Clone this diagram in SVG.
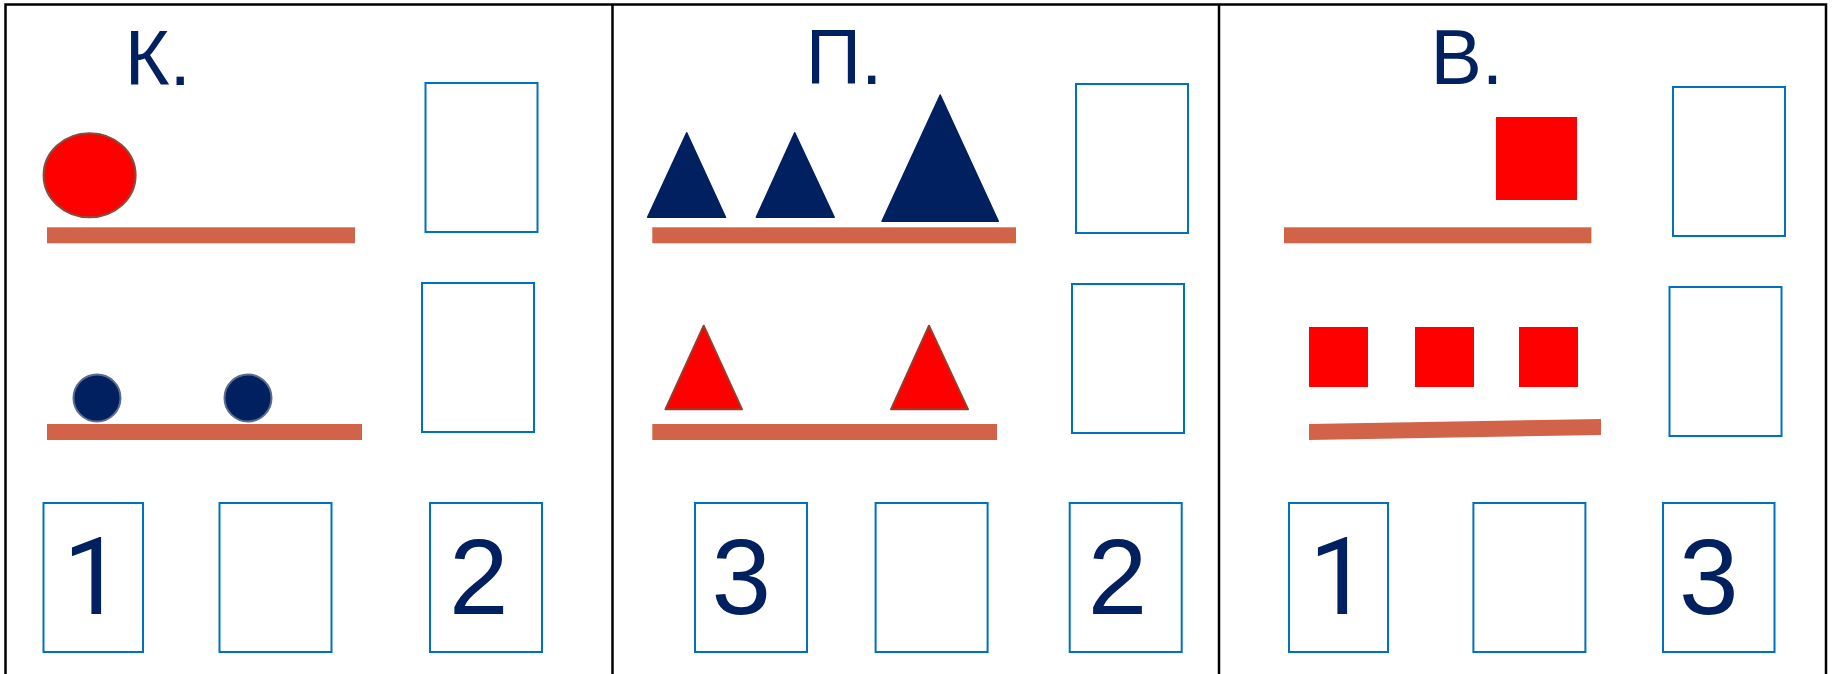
<svg xmlns="http://www.w3.org/2000/svg" width="1833" height="674" viewBox="0 0 1833 674">
<style>
.frame{stroke:#000;stroke-width:2.5;fill:none}
.box{fill:#fff;stroke:#0070C0;stroke-width:2}
.bar{fill:#D16349}
.navy{fill:#002060}
.red{fill:#FF0000}
.redt{fill:#FF0000;stroke:#9A3B2B;stroke-width:2;stroke-linejoin:round}
.navyc{fill:#002060;stroke:#5C6C8E;stroke-width:2}
.lbl{font-family:'Liberation Sans',sans-serif;fill:#002060}
.one{font-family:Roboto,'Liberation Sans',sans-serif}
.head{font-size:77px}
.num{font-size:107px}
</style>
<rect x="0" y="0" width="1833" height="674" fill="#fff"/>
<g id="frame">
<path class="frame" d="M5.5 674 V4.5 H1826 V674"/>
<line class="frame" x1="612.5" y1="4.5" x2="612.5" y2="674"/>
<line class="frame" x1="1219" y1="4.5" x2="1219" y2="674"/>
</g>
<g id="panel-k">
<text class="lbl head" x="124.7" y="85">К.</text>
<ellipse cx="89.6" cy="175.3" rx="46" ry="42" fill="#FF0000" stroke="#8B4A3A" stroke-width="2"/>
<rect class="bar" x="47" y="227.3" width="308" height="16"/>
<rect class="box" x="425.5" y="83" width="112" height="149"/>
<circle class="navyc" cx="97" cy="398" r="23.5"/>
<circle class="navyc" cx="248" cy="398" r="23.5"/>
<rect class="bar" x="47" y="424" width="315" height="16"/>
<rect class="box" x="422" y="283" width="112" height="149"/>
</g>
<g id="panel-p">
<text class="lbl head" x="805.7" y="84">П.</text>
<polygon class="navy" points="686.7,132.7 725.5,217.3 647.6,217.3" stroke="#002060" stroke-width="1.5" stroke-linejoin="round"/>
<polygon class="navy" points="794.7,132.7 834.2,217.3 756.3,217.3" stroke="#002060" stroke-width="1.5" stroke-linejoin="round"/>
<polygon class="navy" points="940.2,95 998.3,221.3 882,221.3" stroke="#002060" stroke-width="1.5" stroke-linejoin="round"/>
<rect class="bar" x="652.3" y="227.3" width="363.7" height="16"/>
<rect class="box" x="1076" y="84" width="112" height="149"/>
<polygon class="redt" points="703.7,325.7 742,409.3 665.4,409.3"/>
<polygon class="redt" points="929,325.7 968,409.3 891,409.3"/>
<rect class="bar" x="652.3" y="424" width="344.7" height="16"/>
<rect class="box" x="1072" y="284" width="112" height="149"/>
</g>
<g id="panel-v">
<text class="lbl head" x="1430.5" y="84">В.</text>
<rect class="red" x="1496" y="117" width="81" height="83"/>
<rect class="bar" x="1284" y="227.3" width="307.4" height="16"/>
<rect class="box" x="1673" y="87" width="112" height="149"/>
<rect class="red" x="1309" y="327" width="59" height="60"/>
<rect class="red" x="1415" y="327" width="59" height="60"/>
<rect class="red" x="1519" y="327" width="59" height="60"/>
<polygon class="bar" points="1309,424 1601,419 1601,435 1309,440"/>
<rect class="box" x="1669.5" y="287" width="112" height="149"/>
</g>
<g id="answers-k">
<rect class="box" x="43.5" y="503" width="99.5" height="149"/>
<text class="lbl num one" x="63" y="613.7">1</text>
<rect class="box" x="219.5" y="503" width="112" height="149"/>
<rect class="box" x="430" y="503" width="112" height="149"/>
<text class="lbl num" x="449" y="613.7">2</text>
</g>
<g id="answers-p">
<rect class="box" x="695" y="503" width="112" height="149"/>
<text class="lbl num" x="711.5" y="613.7">3</text>
<rect class="box" x="875.6" y="503" width="112" height="149"/>
<rect class="box" x="1069.7" y="503" width="112" height="149"/>
<text class="lbl num" x="1087.7" y="613.7">2</text>
</g>
<g id="answers-v">
<rect class="box" x="1289" y="503" width="99" height="149"/>
<text class="lbl num one" x="1309" y="613.7">1</text>
<rect class="box" x="1473.4" y="503" width="112" height="149"/>
<rect class="box" x="1663" y="503" width="111.5" height="149"/>
<text class="lbl num" x="1679" y="613.7">3</text>
</g>
</svg>
